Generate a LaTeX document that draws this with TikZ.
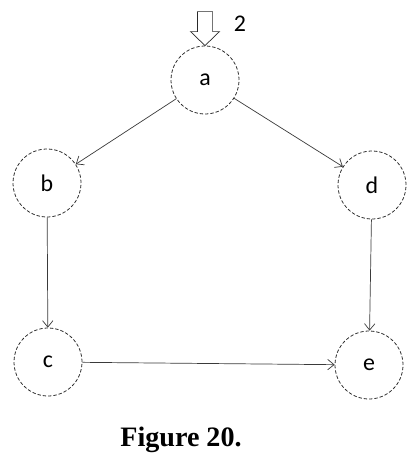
\documentclass[tikz,border=0pt]{standalone}
\usepackage{fontspec}
\usepackage{tikz}
\usetikzlibrary{arrows.meta}
\setmainfont{Carlito}
\newfontfamily\capfont{Liberation Serif}
\definecolor{NodeLine}{HTML}{2A2A2A}
\definecolor{EdgeLine}{HTML}{3A3A3A}
\tikzset{
  vertex/.style={circle, draw=NodeLine, line width=0.55pt, dash pattern=on 2.4pt off 1.4pt, minimum size=1.7cm, inner sep=0pt, font=\fontsize{17}{20}\selectfont},
  edge/.style={EdgeLine, line width=0.5pt, -{Straight Barb[length=1.6mm, width=2.6mm]}},
  entryarrow/.style={draw=NodeLine, line width=0.5pt, fill=white, line join=miter}
}

\begin{document}
\begin{tikzpicture}
      \useasboundingbox (0,0) rectangle (10.225,-11.35);
      \node[vertex] (a) at (5.125,-2.0) {a};
      \node[vertex] (b) at (1.175,-4.575) {b};
      \node[vertex] (d) at (9.3,-4.625) {d};
      \node[vertex] (c) at (1.2,-9.05) {c};
      \node[vertex] (e) at (9.225,-9.125) {e};
      % hollow entry arrow
      \draw[entryarrow] (a.north) -- ++(-0.36,0.35) -- ++(0.17,0) -- ++(0,0.5) -- ++(0.38,0) -- ++(0,-0.5) -- ++(0.17,0) -- cycle;
      \node[font=\fontsize{17}{20}\selectfont] (count) at (6.0,-0.6) {2};
      \draw[edge] (a) -- (b);
      \draw[edge] (a) -- (d);
      \draw[edge] (b) -- (c);
      \draw[edge] (d) -- (e);
      \draw[edge] (c) -- (e);
      \node[font=\capfont\bfseries\fontsize{20}{24}\selectfont] (caption) at (4.525,-11.0) {Figure 20.};
    \end{tikzpicture}
\end{document}
